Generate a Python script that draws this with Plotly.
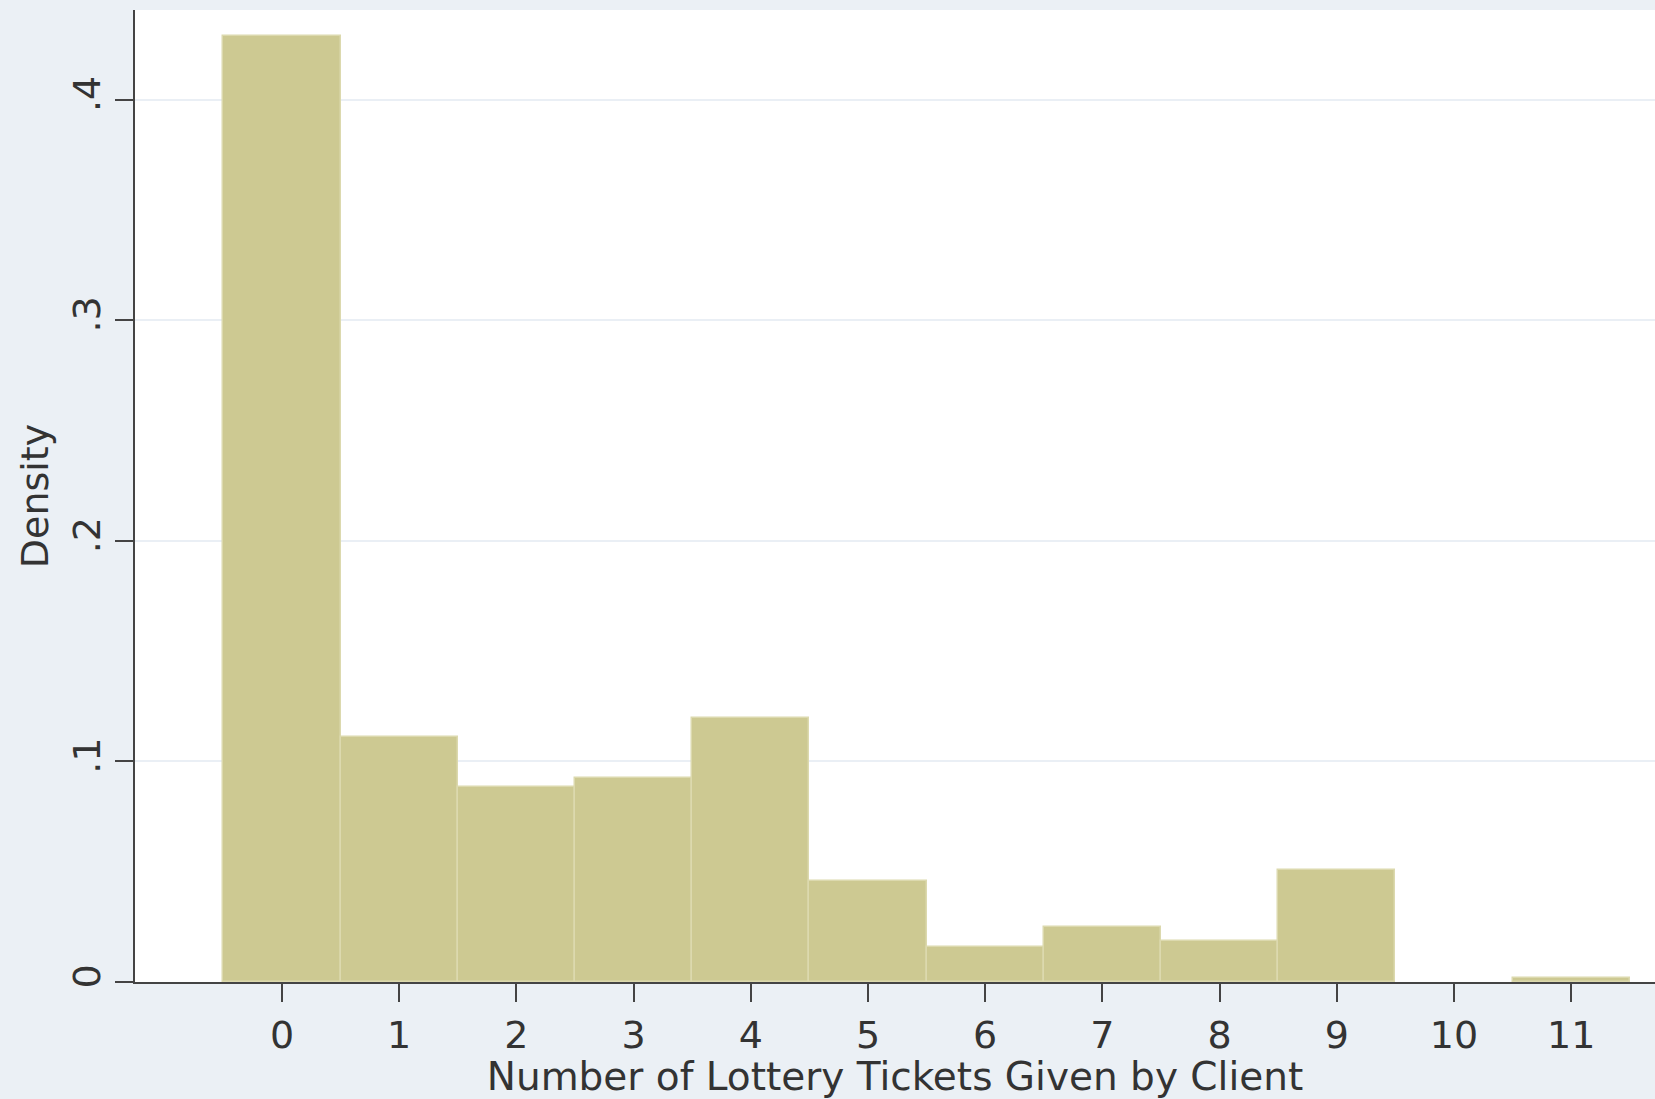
import plotly.graph_objects as go

# tickets given per client (bin centre) and histogram density
tickets = [0, 1, 2, 3, 4, 5, 6, 7, 8, 9, 10, 11]
density = [0.4287, 0.1111, 0.0886, 0.0925, 0.1198, 0.0460,
           0.0158, 0.0249, 0.0187, 0.0508, 0.0, 0.0019]

y_ticks = [0, 0.1, 0.2, 0.3, 0.4]
y_labels = ["0", ".1", ".2", ".3", ".4"]

FONT = "DejaVu Sans"
TXT = "#333333"

fig = go.Figure(go.Bar(
    x=tickets, y=density, width=1,
    marker=dict(color="#CDC992",
                line=dict(color="#DCD9AE",
                          width=[0 if d == 0 else 1.5 for d in density])),
))

fig.update_layout(
    width=1655, height=1099,
    margin=dict(l=135, r=0, t=10, b=117),
    paper_bgcolor="#EBF0F5", plot_bgcolor="white",
    showlegend=False, bargap=0,
    font=dict(family=FONT, color=TXT),
)
fig.update_xaxes(
    range=[-1.254, 11.715], tickvals=tickets, ticks="outside", ticklen=18,
    tickwidth=2, tickcolor="#444", showline=True, linecolor="#444", linewidth=2,
    showgrid=False, zeroline=False, tickfont=dict(size=38),
    title=dict(text="Number of Lottery Tickets Given by Client",
               font=dict(size=39), standoff=0),
)
fig.update_yaxes(
    range=[0, 0.4406], tickvals=y_ticks, ticktext=y_labels, tickangle=-90,
    ticks="outside", ticklen=18, tickwidth=2, tickcolor="#444",
    showline=True, linecolor="#444", linewidth=2, zeroline=False,
    showgrid=True, gridcolor="#EAEFF5", gridwidth=2, tickfont=dict(size=38),
    title=dict(text="Density", font=dict(size=38), standoff=4),
)

# drop the browser's default body margin so the figure fills the window
fig.write_html("out.html",
               config={"displayModeBar": False},
               post_script="document.body.style.margin='0';"
                           "document.body.style.overflow='hidden';")
